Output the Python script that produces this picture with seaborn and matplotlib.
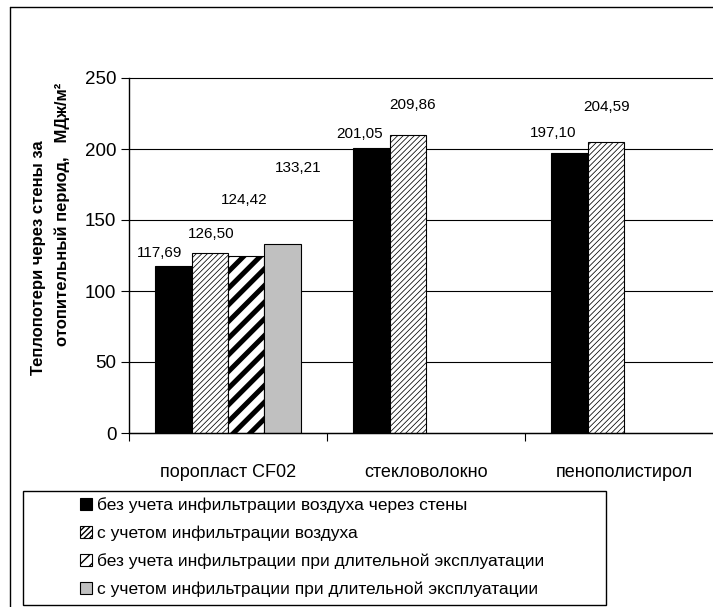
import numpy as np
import pandas as pd
import matplotlib
matplotlib.use("Agg")
import matplotlib.pyplot as plt
import seaborn as sns
from matplotlib.patches import Patch, Rectangle
from matplotlib.lines import Line2D

# ---------------- data ----------------
categories = ["поропласт CF02", "стекловолокно", "пенополистирол"]
series_names = [
    "без учета инфильтрации воздуха через стены",
    "с учетом инфильтрации воздуха",
    "без учета инфильтрации при длительной эксплуатации",
    "с учетом инфильтрации при длительной эксплуатации",
]
s_no_infiltration = [117.69, 201.05, 197.10]
s_infiltration = [126.50, 209.86, 204.59]
s_long_no_infiltration = [124.42, np.nan, np.nan]
s_long_infiltration = [133.21, np.nan, np.nan]
y_ticks = [0, 50, 100, 150, 200, 250]
y_label_1 = "Теплопотери через стены за"
y_label_2 = "отопительный период,   МДж/м²"

all_series = [s_no_infiltration, s_infiltration, s_long_no_infiltration, s_long_infiltration]

rows = []
for name, vals in zip(series_names, all_series):
    for cat, v in zip(categories, vals):
        rows.append({"cat": cat, "series": name, "value": v})
df = pd.DataFrame(rows)

# ---------------- style ----------------
sns.set_theme(style="white")
plt.rcParams["font.family"] = ["Liberation Sans", "DejaVu Sans"]

W, H = 713, 607
fig = plt.figure(figsize=(W / 100, H / 100), dpi=100)
fig.patch.set_facecolor("white")

ax_left, ax_right, ax_top, ax_bottom = 129, 723, 78, 433
ax = fig.add_axes([ax_left / W, 1 - ax_bottom / H, (ax_right - ax_left) / W, (ax_bottom - ax_top) / H])
ax.set_facecolor("white")

facecolors = ["black", "white", "white", "#c0c0c0"]
hatches = [None, "//////", "//", None]
hatch_lws = [0.6, 0.55, 3.6, 0.6]
legend_hatches = [None, "//////", "///", None]
legend_hatch_lws = [0.6, 0.5, 3.0, 0.6]

sns.barplot(data=df, x="cat", y="value", hue="series", order=categories,
            hue_order=series_names, errorbar=None, width=0.733,
            palette=facecolors, saturation=1, ax=ax, legend=False)

px_per_unit = (ax_bottom - ax_top) / 250.0
# label placement (offsets in pixels: dx from bar centre, dy of label centre above bar top)
label_dx = [[-14, -12, -16], [1.5, 5, 1], [-2, 0, 0], [15.5, 0, 0]]
label_dy = [[13, 14, 20], [19, 30, 35], [56, 0, 0], [76, 0, 0]]

for i, cont in enumerate(ax.containers):
    for bar in cont:
        h = bar.get_height()
        if h is None or np.isnan(h):
            continue
        bar.set_facecolor(facecolors[i])
        bar.set_edgecolor("black")
        bar.set_linewidth(0.8)
        if hatches[i]:
            bar.set_hatch(hatches[i])
            try:
                bar.set_hatch_linewidth(hatch_lws[i])
            except AttributeError:
                pass
        xc = bar.get_x() + bar.get_width() / 2
        j = int(round(xc))
        dx = label_dx[i][j] / ((ax_right - ax_left) / 3.0)
        dy = label_dy[i][j] / px_per_unit
        ax.text(xc + dx, h + dy, f"{h:.2f}".replace(".", ","), ha="center", va="center",
                fontsize=11, color="black")

ax.set_xlim(-0.5, 2.5)
ax.set_ylim(0, 250)
ax.set_yticks(y_ticks)
ax.set_xlabel("")
ax.set_ylabel("")
for s in ["top", "right"]:
    ax.spines[s].set_visible(False)
for s in ["left", "bottom"]:
    ax.spines[s].set_color("black")
    ax.spines[s].set_linewidth(1.0)
ax.yaxis.grid(True, color="black", linewidth=0.8)
ax.set_axisbelow(True)
for gl in ax.get_ygridlines():
    gl.set_clip_on(False)

ax.tick_params(axis="y", which="major", left=True, length=6, width=0.8, color="black",
               direction="out", labelsize=13.5, pad=3, labelcolor="black")
ax.set_xticks([0, 1, 2])
ax.set_xticklabels(categories)
ax.set_xticks([-0.5, 0.5, 1.5, 2.5], minor=True)
ax.tick_params(axis="x", which="major", bottom=True, length=0, pad=22, labelsize=13,
               labelcolor="black")
ax.tick_params(axis="x", which="minor", bottom=True, length=6, width=0.8, color="black",
               direction="out")

# y label (two lines)
fig.text(39 / W, 1 - 257.5 / H, y_label_1, rotation=90, ha="center", va="center",
         fontsize=12, fontweight="bold", color="black")
fig.text(62 / W, 1 - 214 / H, y_label_2, rotation=90, ha="center", va="center",
         fontsize=12, fontweight="bold", color="black")

# figure border (top & left)
fig.add_artist(Line2D([10 / W, 1], [1 - 7 / H, 1 - 7 / H], color="black", lw=1.0,
                      transform=fig.transFigure))
fig.add_artist(Line2D([10 / W, 10 / W], [1 - 7 / H, 0], color="black", lw=1.0,
                      transform=fig.transFigure))

# legend box
fig.add_artist(Rectangle((23 / W, 1 - 605 / H), (606 - 23) / W, (605 - 491) / H,
                         transform=fig.transFigure, facecolor="none", edgecolor="black", lw=1.0))

handles = []
for i in range(4):
    p = Patch(facecolor=facecolors[i], edgecolor="black", hatch=legend_hatches[i], linewidth=0.8)
    if legend_hatches[i]:
        try:
            p.set_hatch_linewidth(legend_hatch_lws[i])
        except AttributeError:
            pass
    handles.append(p)

leg = fig.legend(handles, series_names, loc="upper left",
                 bbox_to_anchor=(80 / W, 1 - 497 / H), frameon=False, fontsize=12.5,
                 handlelength=0.7, handleheight=0.7, handletextpad=0.3,
                 labelspacing=0.72, borderpad=0, borderaxespad=0)
for t in leg.get_texts():
    t.set_color("black")

fig.savefig("out.png", dpi=100, facecolor="white")
